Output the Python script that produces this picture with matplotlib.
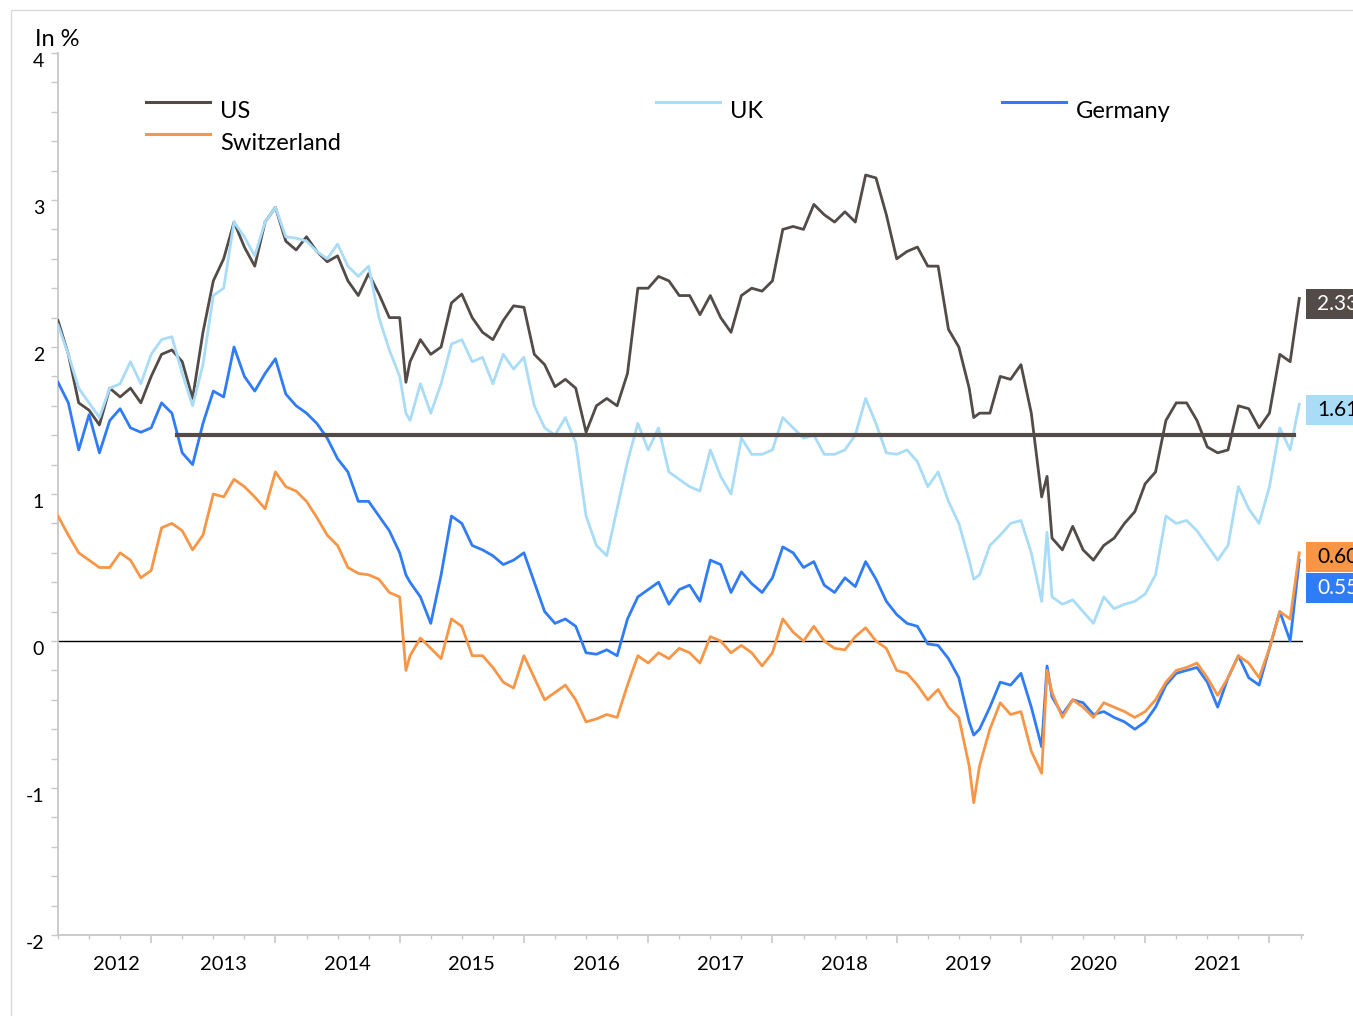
import numpy as np
import matplotlib
matplotlib.use("Agg")
import matplotlib.pyplot as plt
from matplotlib.patches import Rectangle
from matplotlib.transforms import ScaledTranslation, blended_transform_factory

plt.rcParams['font.family'] = ['Lato', 'DejaVu Sans']
plt.rcParams['axes.unicode_minus'] = False

# 10-year government bond yields, in %, month starts Apr 2012 .. Mar 2022 + last print
first_month = 2012.25
last_date = 2022.24

us = [2.18, 1.95, 1.62, 1.57, 1.47, 1.72, 1.66, 1.72, 1.62, 1.80, 1.95, 1.98, 1.90, 1.65, 2.10, 2.45, 2.60, 2.85, 2.68, 2.55, 2.85,
      2.95, 2.72, 2.66, 2.75, 2.65, 2.58, 2.62, 2.45, 2.35, 2.50, 2.36, 2.20, 2.20, 1.90, 2.05, 1.95, 2.00, 2.30, 2.36, 2.20,
      2.10, 2.05, 2.18, 2.28, 2.27, 1.95, 1.88, 1.73, 1.78, 1.72, 1.42, 1.60, 1.65, 1.60, 1.82, 2.40, 2.40, 2.48, 2.45, 2.35,
      2.35, 2.22, 2.35, 2.20, 2.10, 2.35, 2.40, 2.38, 2.45, 2.80, 2.82, 2.80, 2.97, 2.90, 2.85, 2.92, 2.85, 3.17, 3.15, 2.90,
      2.60, 2.65, 2.68, 2.55, 2.55, 2.12, 2.00, 1.72, 1.55, 1.55, 1.80, 1.78, 1.88, 1.55, 0.98, 0.70, 0.62, 0.78, 0.62, 0.55,
      0.65, 0.70, 0.80, 0.88, 1.07, 1.15, 1.50, 1.62, 1.62, 1.50, 1.32, 1.28, 1.30, 1.60, 1.58, 1.45, 1.55, 1.95, 1.90,
      2.33]
uk = [2.15, 1.95, 1.72, 1.62, 1.52, 1.72, 1.75, 1.90, 1.75, 1.95, 2.05, 2.07, 1.82, 1.60, 1.88, 2.35, 2.40, 2.85, 2.75, 2.62, 2.85,
      2.95, 2.75, 2.74, 2.72, 2.65, 2.60, 2.70, 2.55, 2.48, 2.55, 2.20, 1.98, 1.80, 1.50, 1.75, 1.55, 1.75, 2.02, 2.05, 1.90,
      1.93, 1.75, 1.95, 1.85, 1.93, 1.60, 1.45, 1.40, 1.52, 1.35, 0.85, 0.65, 0.58, 0.90, 1.22, 1.48, 1.30, 1.45, 1.15, 1.10,
      1.05, 1.02, 1.30, 1.12, 1.00, 1.38, 1.27, 1.27, 1.30, 1.52, 1.45, 1.38, 1.40, 1.27, 1.27, 1.30, 1.40, 1.65, 1.48, 1.28,
      1.27, 1.30, 1.22, 1.05, 1.15, 0.95, 0.80, 0.55, 0.45, 0.65, 0.72, 0.80, 0.82, 0.60, 0.27, 0.30, 0.25, 0.28, 0.20, 0.12,
      0.30, 0.22, 0.25, 0.27, 0.32, 0.45, 0.85, 0.80, 0.82, 0.75, 0.65, 0.55, 0.65, 1.05, 0.90, 0.80, 1.05, 1.45, 1.30,
      1.61]
germany = [1.76, 1.62, 1.30, 1.54, 1.28, 1.50, 1.58, 1.45, 1.42, 1.45, 1.62, 1.55, 1.28, 1.20, 1.48, 1.70, 1.66, 2.00, 1.80, 1.70, 1.82,
           1.92, 1.68, 1.60, 1.55, 1.48, 1.38, 1.24, 1.15, 0.95, 0.95, 0.85, 0.75, 0.60, 0.40, 0.30, 0.12, 0.45, 0.85, 0.80, 0.65,
           0.62, 0.58, 0.52, 0.55, 0.60, 0.40, 0.20, 0.12, 0.15, 0.10, -0.08, -0.09, -0.06, -0.10, 0.15, 0.30, 0.35, 0.40, 0.25, 0.35,
           0.38, 0.27, 0.55, 0.52, 0.33, 0.47, 0.39, 0.33, 0.43, 0.64, 0.60, 0.50, 0.54, 0.38, 0.33, 0.43, 0.37, 0.54, 0.42, 0.27,
           0.18, 0.12, 0.10, -0.02, -0.03, -0.12, -0.25, -0.55, -0.60, -0.45, -0.28, -0.30, -0.22, -0.45, -0.72, -0.38, -0.50, -0.40, -0.42, -0.50,
           -0.48, -0.52, -0.55, -0.60, -0.55, -0.45, -0.30, -0.22, -0.20, -0.18, -0.28, -0.45, -0.25, -0.10, -0.25, -0.30, -0.05, 0.20, 0.00,
           0.55]
switzerland = [0.85, 0.72, 0.60, 0.55, 0.50, 0.50, 0.60, 0.55, 0.43, 0.48, 0.77, 0.80, 0.75, 0.62, 0.72, 1.00, 0.98, 1.10, 1.05, 0.98, 0.90,
               1.15, 1.05, 1.02, 0.95, 0.84, 0.72, 0.65, 0.50, 0.46, 0.45, 0.42, 0.33, 0.30, -0.10, 0.02, -0.05, -0.12, 0.15, 0.10, -0.10,
               -0.10, -0.18, -0.28, -0.32, -0.10, -0.25, -0.40, -0.35, -0.30, -0.40, -0.55, -0.53, -0.50, -0.52, -0.30, -0.10, -0.15, -0.08, -0.12, -0.05,
               -0.08, -0.15, 0.03, 0.00, -0.08, -0.03, -0.08, -0.17, -0.08, 0.15, 0.06, 0.00, 0.10, 0.00, -0.05, -0.06, 0.03, 0.09, 0.00, -0.05,
               -0.20, -0.22, -0.30, -0.40, -0.33, -0.45, -0.52, -0.85, -0.85, -0.60, -0.42, -0.50, -0.48, -0.75, -0.90, -0.35, -0.52, -0.40, -0.45, -0.52,
               -0.42, -0.45, -0.48, -0.52, -0.48, -0.40, -0.28, -0.20, -0.18, -0.15, -0.25, -0.37, -0.25, -0.10, -0.15, -0.25, -0.05, 0.20, 0.15,
               0.60]

# a few mid-month prints at the sharpest moves (SNB floor exit, Aug 2019 low, Mar 2020 spike)
extra_dates = [2015.05, 2019.62, 2020.21]
extra_us = [1.76, 1.52, 1.12]
extra_uk = [1.55, 0.42, 0.74]
extra_germany = [0.45, -0.64, -0.17]
extra_switzerland = [-0.20, -1.10, -0.20]

dates = list(first_month + np.arange(len(us) - 1) / 12) + [last_date]

# horizontal reference line
ref_level = 1.4
ref_start, ref_end = 2013.21, 2022.20

years = list(range(2012, 2022))
year_label_x = [2012.72] + [y + 0.58 for y in years[1:]]

colors = {
    'US': '#524B48',
    'UK': '#A9DCF6',
    'Germany': '#2F7CF6',
    'Switzerland': '#F79646',
}
series = {'US': (us, extra_us), 'UK': (uk, extra_uk),
          'Germany': (germany, extra_germany), 'Switzerland': (switzerland, extra_switzerland)}

fig = plt.figure(figsize=(13.53, 10.16), dpi=100)
ax = fig.add_axes([58 / 1353, 1 - 935 / 1016, (1303 - 58) / 1353, (935 - 53) / 1016])

for name, (vals, extra) in series.items():
    x = np.array(dates + extra_dates)
    y = np.array(vals + extra)
    order = np.argsort(x)
    ax.plot(x[order], y[order], color=colors[name], lw=2.0, solid_joinstyle='round', zorder=3)

ax.axhline(0, color='black', lw=1.0, zorder=2)
ax.plot([ref_start, ref_end], [ref_level, ref_level], color=colors['US'], lw=3.0, zorder=4)

ax.set_xlim(2012.25, 2022.27)
ax.set_ylim(-2, 4)

for side in ['top', 'right']:
    ax.spines[side].set_visible(False)
for side in ['left', 'bottom']:
    ax.spines[side].set_color('#C8C8C8')
    ax.spines[side].set_linewidth(1.3)

ax.set_xticks(range(2013, 2023))
ax.set_xticks(np.arange(2012.25, 2022.3, 0.25), minor=True)
ax.set_xticklabels([])
ax.tick_params(axis='x', which='major', length=6, width=1.2, color='#C8C8C8')
ax.tick_params(axis='x', which='minor', length=3, width=1.0, color='#C8C8C8')

ax.set_yticks(range(-2, 5))
ax.set_yticks(np.arange(-2, 4.01, 0.2), minor=True)
ax.tick_params(axis='y', which='both', length=5, width=1.0, color='#C8C8C8', labelsize=14, pad=5)
shift = ScaledTranslation(0, -7 / 100, fig.dpi_scale_trans)
for lab in ax.get_yticklabels():
    lab.set_transform(lab.get_transform() + shift)

trans = blended_transform_factory(ax.transData, ax.transAxes)
for x, y in zip(year_label_x, years):
    ax.text(x, -0.034, str(y), transform=trans, ha='center', va='center', fontsize=14.5)

fig.text(35 / 1353, 1 - 39 / 1016, 'In %', fontsize=17, va='center', ha='left')

# legend drawn by hand (Excel style, three columns)
legend_items = [('US', 146, 102), ('UK', 656, 102), ('Germany', 1002, 102), ('Switzerland', 146, 134)]
for name, lx, ly in legend_items:
    yf = 1 - ly / 1016
    fig.add_artist(plt.Line2D([lx / 1353, (lx + 64) / 1353], [yf, yf], color=colors[name], lw=2.2))
    fig.text((lx + 74) / 1353, 1 - (ly + 9) / 1016, name, fontsize=17, va='center', ha='left')

# value tags at the right edge (cut by the figure edge, as in the original)
tag_items = [('US', 2.29, 'white'), ('UK', 1.57, 'black'), ('Switzerland', 0.57, 'black'), ('Germany', 0.36, 'white')]
for name, ty, tc in tag_items:
    yc = ax.transData.transform((2022, ty))[1] / fig.bbox.height
    h = 30 / 1016
    fig.add_artist(Rectangle((1306 / 1353, yc - h / 2), 60 / 1353, h, transform=fig.transFigure,
                             facecolor=colors[name], edgecolor='none'))
    fig.text(1317 / 1353, yc, f'{series[name][0][-1]:.2f}', color=tc, fontsize=15, va='center', ha='left')

# light frame around the chart
fig.add_artist(Rectangle((11 / 1353, -0.01), 1.0, 1 - 10 / 1016 + 0.01, transform=fig.transFigure,
                         facecolor='none', edgecolor='#D9D9D9', lw=1.0))

fig.savefig('out.png', dpi=100)
